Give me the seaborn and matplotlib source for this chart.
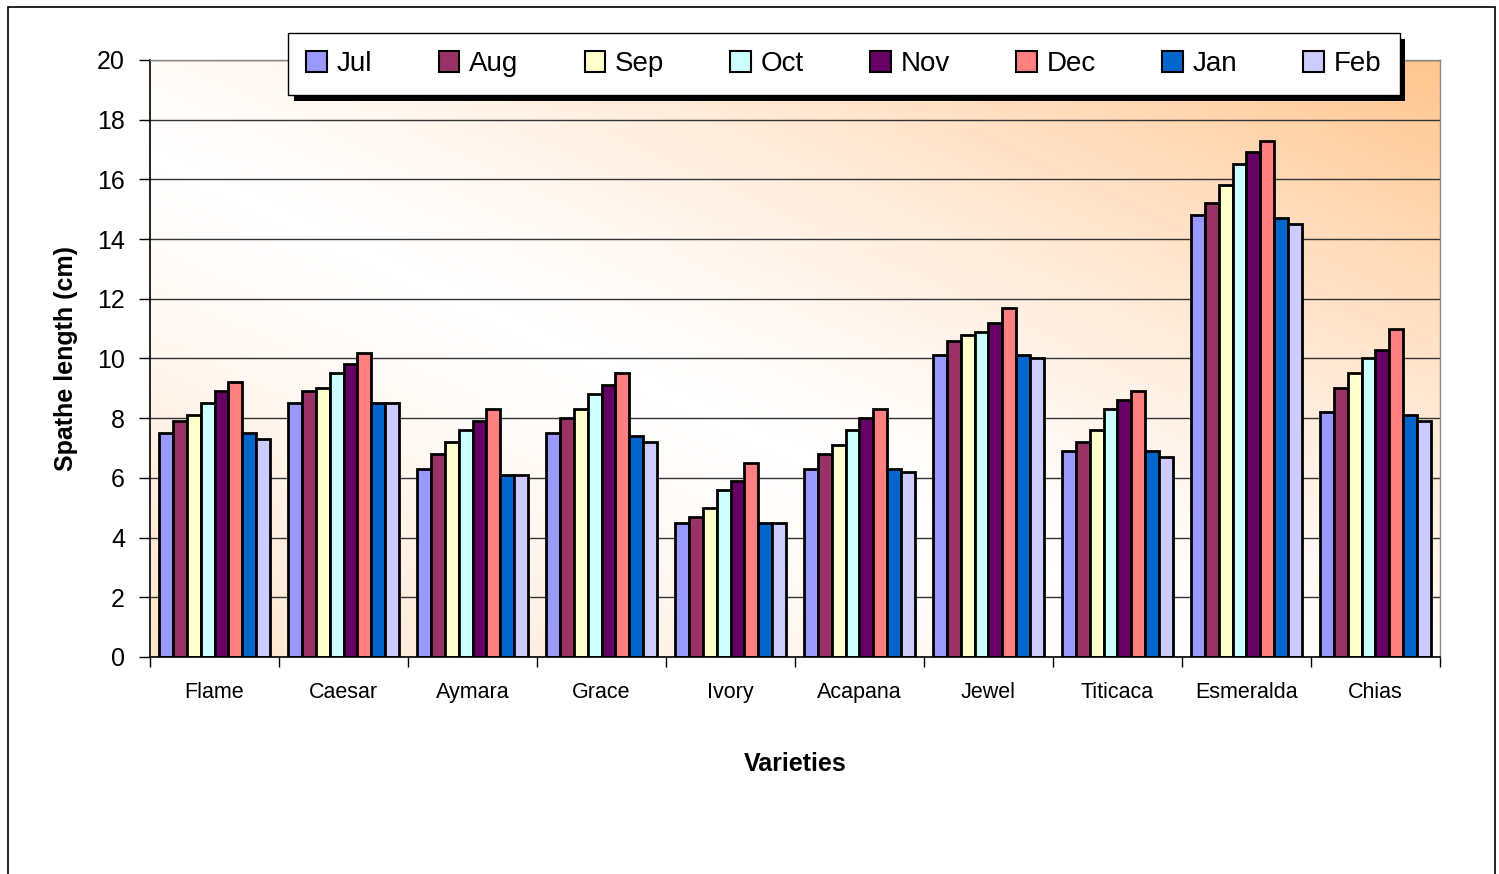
import numpy as np
import pandas as pd
import matplotlib.pyplot as plt
import seaborn as sns
import matplotlib.patheffects as pe
from matplotlib.colors import LinearSegmentedColormap
from matplotlib.patches import Rectangle

varieties = ["Flame", "Caesar", "Aymara", "Grace", "Ivory", "Acapana", "Jewel", "Titicaca", "Esmeralda", "Chias"]
months = ["Jul", "Aug", "Sep", "Oct", "Nov", "Dec", "Jan", "Feb"]

jul = [7.5, 8.5, 6.3, 7.5, 4.5, 6.3, 10.1, 6.9, 14.8, 8.2]
aug = [7.9, 8.9, 6.8, 8.0, 4.7, 6.8, 10.6, 7.2, 15.2, 9.0]
sep = [8.1, 9.0, 7.2, 8.3, 5.0, 7.1, 10.8, 7.6, 15.8, 9.5]
oct_ = [8.5, 9.5, 7.6, 8.8, 5.6, 7.6, 10.9, 8.3, 16.5, 10.0]
nov = [8.9, 9.8, 7.9, 9.1, 5.9, 8.0, 11.2, 8.6, 16.9, 10.3]
dec = [9.2, 10.2, 8.3, 9.5, 6.5, 8.3, 11.7, 8.9, 17.3, 11.0]
jan = [7.5, 8.5, 6.1, 7.4, 4.5, 6.3, 10.1, 6.9, 14.7, 8.1]
feb = [7.3, 8.5, 6.1, 7.2, 4.5, 6.2, 10.0, 6.7, 14.5, 7.9]

colors = ["#9999FF", "#993366", "#FFFFCC", "#CCFFFF", "#660066", "#FF8080", "#0066CC", "#CCCCFF"]

series = [jul, aug, sep, oct_, nov, dec, jan, feb]
df = pd.DataFrame({
    "variety": varieties * len(months),
    "month": [m for m in months for _ in varieties],
    "length": [v for s in series for v in s],
})

sns.set_style("white")
plt.rcParams["font.family"] = ["Liberation Sans", "DejaVu Sans"]
plt.rcParams["text.color"] = "black"
plt.rcParams["axes.labelcolor"] = "black"
plt.rcParams["xtick.color"] = "black"
plt.rcParams["ytick.color"] = "black"

fig = plt.figure(figsize=(14.99, 8.74), dpi=100)
ax = fig.add_axes([0.1001, 0.2483, 0.8605, 0.6831])

# background gradient: white in the middle, peach toward the corners
nx, ny = 300, 200
xx, yy = np.meshgrid(np.linspace(0, 1, nx), np.linspace(0, 1, ny))
u = (xx + yy) / 2
t = np.clip(np.abs(u - 0.42) / 0.58, 0, 1) ** 1.3
t = np.where(u > 0.42, t, t * 0.75)
cmap = LinearSegmentedColormap.from_list("bg", ["#FFFFFF", "#FFC58E"])
ax.imshow(t, cmap=cmap, vmin=0, vmax=1, origin="lower", extent=[0, 1, 0, 1],
          transform=ax.transAxes, aspect="auto", zorder=0, interpolation="bilinear")

sns.barplot(data=df, x="variety", y="length", hue="month", palette=colors,
            width=0.86, edgecolor="black", linewidth=2, saturation=1, ax=ax, zorder=2)

ax.set_xlim(-0.5, len(varieties) - 0.5)
ax.set_ylim(0, 20)
ax.set_yticks(range(0, 21, 2))
ax.yaxis.grid(True, color="#333333", linewidth=1)
ax.set_axisbelow(True)

ax.set_xticks(np.arange(-0.5, len(varieties)), minor=True)
ax.tick_params(axis="x", which="major", length=0, labelsize=15.5, pad=18)
ax.tick_params(axis="x", which="minor", length=7, width=1, color="black", direction="out", bottom=True)
ax.tick_params(axis="y", length=8, width=1, color="black", direction="out", left=True, labelsize=18, pad=10)

for side in ["top", "right"]:
    ax.spines[side].set_color("#888888")
    ax.spines[side].set_linewidth(1)
for side in ["left", "bottom"]:
    ax.spines[side].set_color("black")
    ax.spines[side].set_linewidth(1.2)

ax.set_xlabel("Varieties", fontsize=18, fontweight="bold", labelpad=35)
ax.set_ylabel("Spathe length (cm)", fontsize=18, fontweight="bold", labelpad=14)

leg = ax.legend(loc="center", bbox_to_anchor=(0.538, 0.993), ncol=8, fontsize=20,
                frameon=True, fancybox=False, edgecolor="black", framealpha=1,
                handlelength=0.75, handleheight=0.75, handletextpad=0.35,
                columnspacing=2.38, borderpad=0.65)
leg.get_frame().set_linewidth(1)
leg.get_frame().set_path_effects([
    pe.SimplePatchShadow(offset=(4, -4), shadow_rgbFace="black", alpha=1),
    pe.Normal(),
])
for h in leg.legend_handles:
    h.set_edgecolor("black")
    h.set_linewidth(1.5)

fig.patches.append(Rectangle((8 / 1499, -0.01), (1495 - 8) / 1499, 1 - 7 / 874 + 0.01,
                             transform=fig.transFigure, fill=False, edgecolor="black", linewidth=1.2))

fig.savefig("out.png", dpi=100)
plt.close()
